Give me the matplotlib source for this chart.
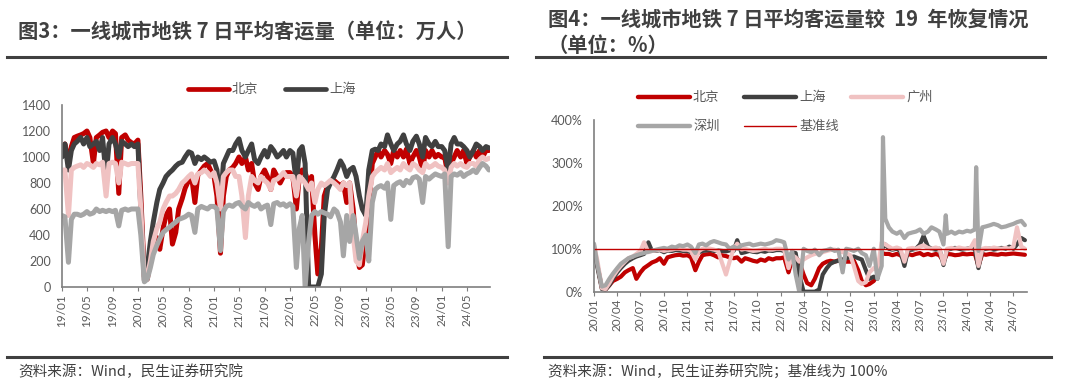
import matplotlib
matplotlib.use('Agg')
import matplotlib.pyplot as plt
import matplotlib.dates as mdates
from matplotlib.lines import Line2D
from matplotlib.ticker import FuncFormatter
import pandas as pd

plt.rcParams['font.family'] = ['Noto Sans CJK SC', 'DejaVu Sans']

# ---- figure 3: 7-day avg ridership (10k persons), semi-monthly points 2019/01 - 2024/08 ----
bj_l = [1050, 1100, 950, 1080, 1150, 1160, 1170, 1180, 1200, 1150, 950, 1150,
        1170, 1190, 1200, 1150, 1200, 1180, 720, 1150, 1170, 1130, 1110, 1100,
        1130, 700, 80, 60, 200, 300, 380, 290, 450, 550, 600, 330,
        420, 600, 680, 760, 820, 850, 650, 860, 900, 930, 950, 900,
        850, 700, 260, 700, 850, 900, 920, 950, 1000, 950, 1000, 900,
        950, 800, 750, 850, 900, 850, 750, 900, 850, 800, 850, 880,
        880, 850, 600, 850, 900, 880, 800, 850, 400, 100, 300, 700,
        780, 800, 820, 800, 780, 800, 650, 800, 600, 300, 150, 170,
        400, 600, 950, 1000, 1050, 1000, 1050, 1020, 950, 1050, 1000, 1050,
        1000, 1060, 950, 1000, 1050, 1000, 900, 1050, 1000, 1050, 1000, 1020,
        1000, 1000, 850, 950, 1000, 1050, 1000, 1050, 950, 1000, 1050, 1000,
        1050, 1000, 1050, 1050]
sh_l = [1000, 1100, 900, 1050, 1100, 1120, 1150, 1100, 1150, 1080, 1100, 1120,
        1050, 1150, 850, 1100, 1150, 1100, 1000, 1120, 1100, 1080, 1100, 1080,
        1100, 600, 50, 150, 350, 500, 650, 750, 800, 850, 880, 900,
        930, 950, 960, 1000, 1040, 1030, 950, 1000, 980, 1000, 980, 960,
        970, 900, 650, 950, 1000, 1050, 1050, 1100, 1140, 1050, 1000, 1050,
        1100, 980, 950, 1000, 1050, 1000, 1080, 1050, 1000, 1020, 1050, 1000,
        1050, 1030, 800, 1050, 1080, 950, 0, 0, 0, 0, 100, 550,
        750, 800, 850, 900, 970, 930, 850, 900, 920, 850, 700, 600,
        550, 900, 1050, 1060, 1050, 1100, 1080, 1170, 1100, 1050, 1100, 1120,
        1170, 1100, 1050, 1120, 1160, 1100, 1000, 1150, 1100, 1080, 1120, 1080,
        1080, 1050, 900, 1100, 1150, 1100, 1100, 1080, 1050, 1000, 1050, 1100,
        1080, 1050, 1080, 1070]
gz_l = [900, 900, 550, 900, 920, 930, 940, 920, 950, 940, 920, 950,
        940, 960, 700, 950, 960, 950, 800, 960, 950, 940, 950, 950,
        950, 600, 50, 80, 200, 350, 450, 500, 600, 650, 700, 700,
        720, 750, 800, 820, 850, 870, 800, 870, 880, 900, 880, 850,
        880, 800, 600, 850, 880, 900, 900, 850, 850, 700, 380, 700,
        850, 820, 800, 850, 820, 800, 750, 820, 830, 850, 880, 850,
        850, 850, 700, 850, 830, 800, 750, 800, 650, 750, 800, 780,
        800, 820, 800, 780, 750, 800, 780, 800, 400, 200, 170, 350,
        500, 700, 850, 880, 900, 920, 900, 950, 880, 900, 920, 900,
        950, 920, 900, 950, 930, 900, 880, 950, 920, 930, 950, 930,
        920, 900, 800, 920, 950, 930, 950, 930, 920, 950, 950, 930,
        980, 1000, 980, 990]
sz_l = [550, 540, 190, 520, 560, 560, 550, 560, 580, 560, 570, 600,
        580, 590, 580, 590, 580, 590, 470, 590, 600, 590, 600, 600,
        600, 400, 40, 60, 150, 250, 320, 370, 420, 440, 460, 480,
        500, 520, 530, 540, 560, 550, 420, 600, 620, 610, 600, 620,
        620, 600, 280, 580, 620, 630, 620, 640, 650, 620, 600, 650,
        630, 620, 640, 600, 620, 630, 480, 640, 650, 630, 640, 620,
        640, 620, 150, 450, 550, 0, 350, 550, 580, 560, 580, 570,
        560, 540, 600, 580, 500, 240, 550, 350, 550, 400, 220, 350,
        400, 200, 650, 750, 770, 780, 760, 800, 520, 780, 800, 810,
        780, 820, 800, 840, 850, 830, 650, 850, 830, 850, 870, 860,
        850, 870, 310, 850, 870, 860, 880, 850, 870, 880, 900, 880,
        920, 950, 930, 900]

# ---- figure 4: recovery vs 2019 (%), semi-monthly points 2020/01 - 2024/08 ----
bj_r = [100, 60, 8, 5, 15, 25, 30, 35, 45, 50, 55, 30,
        45, 55, 62, 68, 72, 78, 65, 80, 83, 85, 86, 84,
        85, 80, 50, 70, 85, 87, 88, 85, 80, 85, 83, 80,
        78, 80, 70, 78, 75, 72, 70, 75, 72, 78, 75, 78,
        78, 80, 45, 75, 80, 70, 40, 20, 15, 30, 55, 65,
        70, 72, 70, 73, 72, 70, 70, 72, 50, 25, 15, 18,
        25, 40, 90, 88, 88, 85, 88, 85, 75, 88, 85, 88,
        90, 85, 88, 85, 88, 85, 70, 88, 87, 85, 86, 88,
        87, 88, 88, 60, 88, 86, 88, 87, 86, 88, 87, 88,
        89, 88, 87, 86]
sh_r = [100, 55, 6, 5, 15, 30, 45, 55, 65, 72, 78, 82,
        85, 88, 115, 95, 95, 97, 92, 96, 95, 97, 96, 95,
        95, 92, 85, 92, 95, 96, 97, 95, 96, 95, 94, 96,
        95, 120, 90, 92, 95, 93, 92, 95, 93, 96, 95, 97,
        97, 95, 70, 92, 90, 40, 0, 0, 0, 0, 5, 40,
        55, 65, 70, 72, 75, 78, 80, 82, 78, 75, 50, 30,
        35, 30, 100, 110, 100, 98, 100, 95, 60, 97, 98, 100,
        110, 130, 105, 100, 98, 100, 62, 98, 100, 102, 100, 98,
        100, 102, 100, 55, 98, 100, 100, 98, 100, 102, 100, 105,
        100, 110, 125, 120]
gz_r = [110, 70, 8, 6, 20, 35, 50, 60, 70, 78, 82, 88,
        95, 115, 92, 95, 96, 98, 95, 97, 98, 100, 100, 98,
        98, 95, 75, 95, 100, 102, 100, 98, 95, 70, 40, 70,
        100, 112, 98, 100, 97, 95, 96, 98, 100, 98, 98, 100,
        100, 98, 55, 85, 80, 70, 75, 80, 85, 88, 90, 92,
        95, 97, 98, 95, 92, 90, 85, 60, 25, 18, 22, 45,
        55, 50, 115, 110, 105, 100, 103, 100, 70, 100, 102, 100,
        105, 108, 102, 100, 103, 100, 65, 100, 102, 100, 103, 101,
        100, 102, 120, 60, 100, 102, 100, 103, 101, 100, 102, 100,
        105, 150, 105, 100]
sz_r = [112, 60, 12, 15, 30, 42, 55, 65, 72, 78, 82, 85,
        88, 90, 93, 95, 98, 100, 102, 100, 105, 103, 108, 106,
        110, 105, 90, 110, 112, 108, 115, 118, 115, 112, 110, 100,
        105, 100, 108, 110, 112, 108, 110, 112, 110, 112, 115, 120,
        118, 115, 75, 95, 40, 0, 100, 95, 92, 98, 85, 95,
        97, 100, 95, 98, 45, 100, 98, 95, 100, 90, 85, 60,
        100, 30, 60, 170, 150, 140, 135, 140, 125, 135, 138, 140,
        145, 135, 140, 150, 145, 140, 110, 135, 140, 135, 140, 138,
        142, 140, 145, 95, 150, 152, 155, 158, 155, 150, 152, 155,
        158, 162, 165, 155]
# short Shenzhen spikes between the semi-monthly points
sz_spike_dates = ['2023-02-06', '2023-10-10', '2024-02-06']
sz_spike_vals = [360, 178, 290]
base_pct = 100

RED = '#C00000'
DARK = '#404040'
PINK = '#F0C2C2'
GRAY = '#A6A6A6'
TXT = '#595959'

W, H = 1065, 381
def fx(px):
    return px / W
def fy(py):
    return 1 - py / H

dates_l = pd.date_range('2019-01-01', '2024-08-16', freq='SMS')
dates_r = pd.date_range('2020-01-01', '2024-08-16', freq='SMS')

fig = plt.figure(figsize=(W / 100, H / 100), dpi=100)

def style_axes(ax):
    for s in ['top', 'right']:
        ax.spines[s].set_visible(False)
    for s in ['left', 'bottom']:
        ax.spines[s].set_color('#7F7F7F')
        ax.spines[s].set_linewidth(1.2)
    ax.tick_params(axis='y', length=0, labelsize=9, labelcolor=TXT, pad=8)
    ax.tick_params(axis='x', length=3, color='#7F7F7F', labelsize=8.5,
                   labelcolor=TXT, rotation=90, pad=2)
    for lab in ax.get_xticklabels() + ax.get_yticklabels():
        lab.set_fontfamily(['Lato', 'Noto Sans CJK SC'])

# ---------- left chart ----------
ax1 = fig.add_axes([fx(62), fy(287), fx(490) - fx(62), fy(105) - fy(287)])
lw = 3.6
ax1.plot(dates_l, bj_l, color=RED, lw=lw, solid_capstyle='round')
ax1.plot(dates_l, sh_l, color=DARK, lw=lw, solid_capstyle='round')
ax1.plot(dates_l, gz_l, color=PINK, lw=lw, solid_capstyle='round')
ax1.plot(dates_l, sz_l, color=GRAY, lw=lw, solid_capstyle='round')
ax1.set_ylim(0, 1400)
ax1.set_yticks(range(0, 1401, 200))
ax1.set_xlim(pd.Timestamp('2019-01-01'), pd.Timestamp('2024-08-20'))
ax1.xaxis.set_major_locator(mdates.MonthLocator(bymonth=[1, 5, 9]))
ax1.xaxis.set_major_formatter(mdates.DateFormatter('%y/%m'))
style_axes(ax1)

# ---------- right chart ----------
ax2 = fig.add_axes([fx(594), fy(291.7), fx(1026.7) - fx(594), fy(120) - fy(291.7)])
sz_series = pd.concat([pd.Series(sz_r, index=dates_r),
                       pd.Series(sz_spike_vals, index=pd.to_datetime(sz_spike_dates))]).sort_index()
lw2 = 3.0
ax2.plot(dates_r, bj_r, color=RED, lw=lw2, solid_capstyle='round')
ax2.plot(dates_r, sh_r, color=DARK, lw=lw2, solid_capstyle='round')
ax2.plot(dates_r, gz_r, color=PINK, lw=lw2, solid_capstyle='round')
ax2.plot(sz_series.index, sz_series.values, color=GRAY, lw=lw2, solid_capstyle='round')
ax2.axhline(base_pct, color=RED, lw=1.0)
ax2.set_ylim(0, 400)
ax2.set_yticks(range(0, 401, 100))
ax2.yaxis.set_major_formatter(FuncFormatter(lambda v, p: '%d%%' % v))
ax2.set_xlim(pd.Timestamp('2020-01-01'), pd.Timestamp('2024-08-22'))
ax2.xaxis.set_major_locator(mdates.MonthLocator(bymonth=[1, 4, 7, 10]))
ax2.xaxis.set_major_formatter(mdates.DateFormatter('%y/%m'))
style_axes(ax2)

# ---------- titles, rules, sources ----------
fig.text(fx(18), fy(32), '图3：一线城市地铁 7 日平均客运量（单位：万人）', fontsize=14.6,
         fontweight='bold', color=DARK, va='center', ha='left')
fig.text(fx(548), fy(20), '图4：一线城市地铁 7 日平均客运量较  19  年恢复情况', fontsize=14.6,
         fontweight='bold', color=DARK, va='center', ha='left')
fig.text(fx(548), fy(45), '（单位：%）', fontsize=14.6,
         fontweight='bold', color=DARK, va='center', ha='left')

for x0, x1 in [(7, 507), (536, 1045)]:
    fig.add_artist(Line2D([fx(x0), fx(x1)], [fy(57), fy(57)], color=DARK, lw=2.2,
                          transform=fig.transFigure))
for x0, x1 in [(7, 507), (544, 1051)]:
    fig.add_artist(Line2D([fx(x0), fx(x1)], [fy(357), fy(357)], color=DARK, lw=2.2,
                          transform=fig.transFigure))

fig.text(fx(18), fy(372), '资料来源：Wind，民生证券研究院', fontsize=10.5,
         color=DARK, va='center', ha='left')
fig.text(fx(548), fy(372), '资料来源：Wind，民生证券研究院；基准线为 100%', fontsize=10.5,
         color=DARK, va='center', ha='left')

# ---------- legends ----------
def legend_item(x0, x1, y, color, lw, label):
    fig.add_artist(Line2D([fx(x0), fx(x1)], [fy(y), fy(y)], color=color, lw=lw,
                          solid_capstyle='round', transform=fig.transFigure))
    fig.text(fx(x1 + 3), fy(y), label, fontsize=9.5, color=TXT, va='center', ha='left')

legend_item(188, 229, 89, RED, 3.4, '北京')
legend_item(285, 326, 89, DARK, 3.4, '上海')

legend_item(638, 690, 97, RED, 3.2, '北京')
legend_item(744, 796, 97, DARK, 3.2, '上海')
legend_item(851, 903, 97, PINK, 3.2, '广州')
legend_item(638, 690, 126, GRAY, 3.2, '深圳')
legend_item(744, 796, 126, RED, 1.0, '基准线')

fig.savefig('out.png', dpi=100)
